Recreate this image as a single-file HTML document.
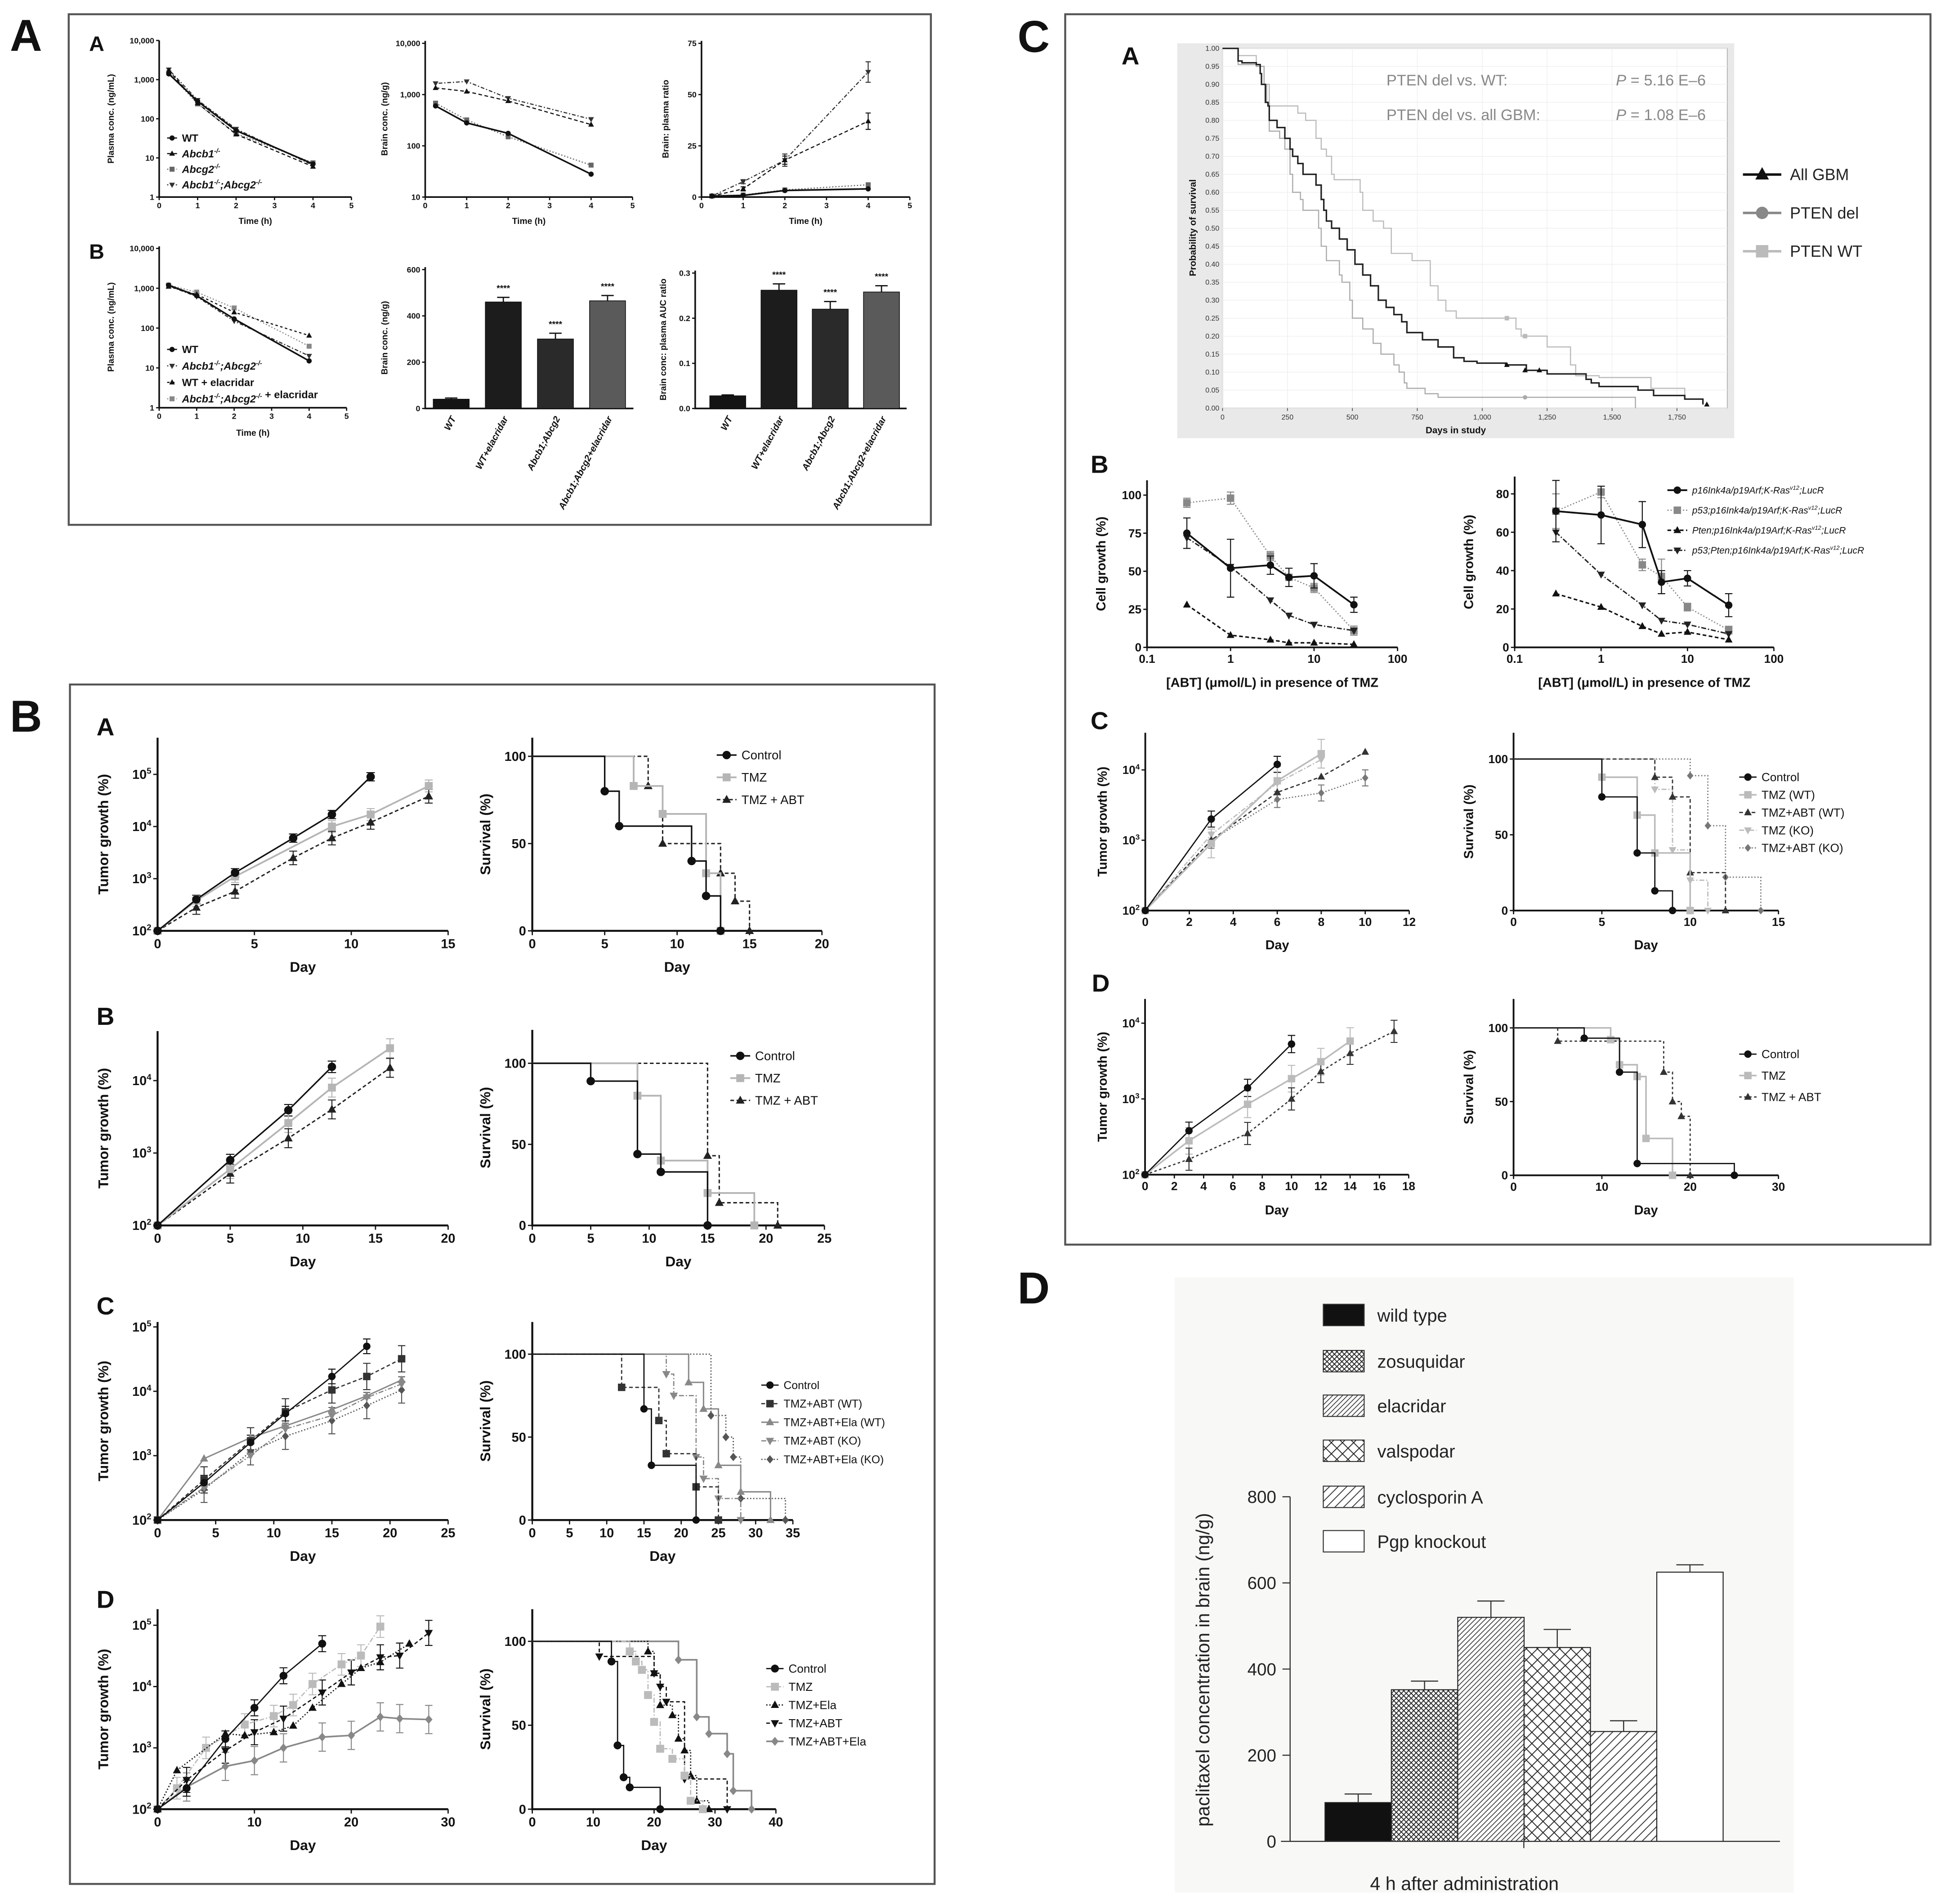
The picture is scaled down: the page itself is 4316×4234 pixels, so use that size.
<!DOCTYPE html>
<html><head><meta charset="utf-8"><style>
html,body{margin:0;padding:0;background:#fff;}
svg{display:block;font-family:"Liberation Sans",Arial,sans-serif;}
</style></head><body>
<svg id="fig" xmlns="http://www.w3.org/2000/svg" width="4316" height="4234" viewBox="0 0 1568 1538.2" preserveAspectRatio="none">
<defs>
<pattern id="pZos" patternUnits="userSpaceOnUse" width="4" height="4"><rect width="4" height="4" fill="#fff"/><path d="M0,0L4,4M4,0L0,4" stroke="#222" stroke-width="0.7"/></pattern>
<pattern id="pEla" patternUnits="userSpaceOnUse" width="4" height="4"><rect width="4" height="4" fill="#fff"/><path d="M-1,5L5,-1M-1,1L1,-1M3,5L5,3" stroke="#333" stroke-width="0.6"/></pattern>
<pattern id="pVal" patternUnits="userSpaceOnUse" width="9" height="9"><rect width="9" height="9" fill="#fff"/><path d="M0,0L9,9M9,0L0,9" stroke="#222" stroke-width="0.7"/></pattern>
<pattern id="pCyc" patternUnits="userSpaceOnUse" width="7" height="7"><rect width="7" height="7" fill="#fff"/><path d="M-1,8L8,-1M-1,1L1,-1M6,8L8,6" stroke="#333" stroke-width="0.7"/></pattern>
</defs>
<g id="root"></g>
</svg>
<script>
// ===== DATA =====
// Panel A (PK)
const pkTimes=[0.25,1,2,4];
const a1WT=[1400,280,50,7], a1B1=[1700,250,40,6], a1G2=[1500,240,42,7.5], a1DKO=[1800,300,55,6.5];
const a2WT=[600,280,175,28], a2B1=[1350,1150,750,260], a2G2=[680,320,150,42], a2DKO=[1650,1800,850,330];
const a3WT=[0.5,0.8,3.2,4], a3B1=[0.5,4,18,37], a3G2=[0.5,1,3.5,6], a3DKO=[0.5,7.5,18,61];
const a3B1err=[0,1,2,4], a3DKOerr=[0,1,3,5];
const b1WT=[1200,650,170,15], b1DKO=[1150,620,150,20], b1WTE=[1100,700,250,65], b1DKOE=[1200,800,320,35];
const barCats=['WT','WT+elacridar','Abcb1;Abcg2','Abcb1;Abcg2+elacridar'];
const brainVals=[40,460,300,465], brainErr=[5,20,25,23];
const aucVals=[0.028,0.262,0.22,0.258], aucErr=[0.002,0.014,0.017,0.014];
const pkTicksLog=[1,10,100,1000,10000], pkTickLabLog=['1','10','100','1,000','10,000'];
const pkTicksLog2=[10,100,1000,10000], pkTickLabLog2=['10','100','1,000','10,000'];
const timeTicks=[0,1,2,3,4,5];
// Panel B row A
const bAdGc=[0,2,4,7,9,11], bAvGc=[100,400,1300,6000,17000,90000];
const bAdGt=[0,2,4,9,11,14], bAvGt=[100,380,1100,10000,17000,60000];
const bAdGa=[0,2,4,7,9,11,14], bAvGa=[100,280,570,2500,6000,12000,38000];
const bAsTc=[5,6,11,12,13], bAsSc=[80,60,40,20,0];
const bAsTt=[7,9,12,13], bAsSt=[83,67,33,0];
const bAsTa=[8,9,13,14,15], bAsSa=[83,50,33,17,0];
// Panel B row B
const bBdGc=[0,5,9,12], bBvGc=[100,800,3900,15500];
const bBdGt=[0,5,9,12,16], bBvGt=[100,600,2600,8000,28000];
const bBdGa=[0,5,9,12,16], bBvGa=[100,520,1600,4000,15000];
const bBsTc=[5,9,11,15], bBsSc=[89,44,33,0];
const bBsTt=[9,11,15,19], bBsSt=[80,40,20,0];
const bBsTa=[15,16,21], bBsSa=[43,14,0];
// Panel B row C
const bCdG1=[0,4,8,11,15,18], bCvG1=[100,380,1600,4500,17000,50000];
const bCdG2=[0,4,8,11,15,18,21], bCvG2=[100,420,1700,4800,10500,17000,32000];
const bCvG3=[100,900,1900,2900,5200,8500,15000];
const bCvG4=[100,320,1000,2600,4200,8000,13000];
const bCvG5=[100,300,1150,2000,3500,6000,10500];
const bCsT1=[15,16,22], bCsS1=[67,33,0];
const bCsT2=[12,17,18,22,25], bCsS2=[80,60,40,20,0];
const bCsT3=[21,23,25,28,32], bCsS3=[83,67,33,17,0];
const bCsT4=[18,19,22,23,25,28], bCsS4=[88,75,38,25,13,0];
const bCsT5=[24,26,27,28,34], bCsS5=[63,50,38,13,0];
// Panel B row D
const bDdG1=[0,3,7,10,13,17], bDvG1=[100,220,1400,4500,15000,50000];
const bDdG2=[0,2,5,9,12,14,16,19,21,23], bDvG2=[100,220,1000,2400,3300,5000,11000,23000,32000,95000];
const bDdG3=[0,2,7,9,12,14,16,19,21,23,26], bDvG3=[100,430,1700,1600,1800,2300,4500,11000,20000,25000,50000];
const bDdG4=[0,3,7,10,13,17,20,23,25,28], bDvG4=[100,300,900,1800,3000,8000,17000,30000,32000,75000];
const bDdG5=[0,3,7,10,13,17,20,23,25,28], bDvG5=[100,230,500,620,1000,1500,1600,3200,3000,2900];
const bDsT1=[13,14,15,16,21], bDsS1=[88,38,19,13,0];
const bDsT2=[16,17,18,19,20,21,23,25,26,28], bDsS2=[94,88,83,68,52,36,30,20,5,0];
const bDsT3=[19,20,21,23,24,25,26,27,29], bDsS3=[94,81,62,56,42,35,20,5,0];
const bDsT4=[11,20,21,22,25,32], bDsS4=[91,81,73,64,18,0];
const bDsT5=[24,27,29,32,33,36], bDsS5=[89,55,45,33,11,0];
// Panel C-A Kaplan-Meier
const kmAllT=[60,75,130,145,150,165,175,180,210,240,260,270,290,310,360,380,390,400,420,450,480,510,540,570,600,630,660,690,710,770,830,890,930,980,1090,1170,1250,1400,1420,1450,1600,1660,1780,1850];
const kmAllS=[0.965,0.96,0.955,0.93,0.9,0.85,0.84,0.8,0.78,0.75,0.72,0.7,0.68,0.65,0.62,0.58,0.55,0.52,0.5,0.47,0.44,0.4,0.37,0.34,0.3,0.28,0.26,0.24,0.21,0.19,0.17,0.14,0.13,0.125,0.12,0.105,0.095,0.08,0.07,0.06,0.05,0.035,0.025,0.01];
const kmDelT=[60,130,160,170,180,220,240,260,270,300,310,370,380,400,450,460,490,500,540,580,610,660,680,700,710,780,830,1590];
const kmDelS=[0.955,0.95,0.9,0.85,0.77,0.75,0.72,0.65,0.6,0.58,0.55,0.5,0.45,0.41,0.37,0.35,0.3,0.25,0.22,0.18,0.15,0.12,0.1,0.07,0.055,0.04,0.03,0];
const kmWtT=[60,130,160,180,290,320,360,380,400,420,430,530,540,580,620,650,730,800,830,860,900,1130,1150,1250,1340,1360,1450,1650,1780];
const kmWtS=[0.98,0.95,0.9,0.84,0.82,0.8,0.75,0.72,0.7,0.65,0.635,0.6,0.55,0.52,0.5,0.43,0.41,0.34,0.3,0.27,0.25,0.22,0.2,0.17,0.12,0.09,0.085,0.055,0.03];
// Panel C-B
const abtConc=[0.3,1,3,5,10,30];
const cbL1=[75,52,54,46,47,28], cbL2=[95,98,60,46,39,11], cbL3=[28,8,5,3,3,2], cbL4=[72,53,31,21,15,11];
const cbL1e=[10,19,6,6,8,5], cbL2e=[3,4,3,6,3,3];
const cbR1=[71,69,64,34,36,22], cbR2=[71,81,43,37,21,9], cbR3=[28,21,11,7,8,4], cbR4=[60,38,22,14,12,7];
const cbR1e=[16,15,12,6,4,6], cbR2e=[9,3,3,9,2,2];
// Panel C-C
const ccD1=[0,3,6], ccV1=[100,2000,12000];
const ccD2=[0,3,6,8], ccV2=[100,900,7000,17000];
const ccD3=[0,3,6,8,10], ccV3=[100,1000,4800,8000,18000];
const ccV4=[100,1200,6500,14000];
const ccV5=[100,1000,3800,4700,7700];
const ccsT1=[5,7,8,9], ccsS1=[75,38,13,0];
const ccsT2=[5,7,8,10], ccsS2=[88,63,38,0];
const ccsT3=[8,9,10,12], ccsS3=[88,75,25,0];
const ccsT4=[8,9,10,11], ccsS4=[80,40,20,0];
const ccsT5=[10,11,12,14], ccsS5=[89,56,22,0];
// Panel C-D
const cdD1=[0,3,7,10], cdV1=[100,380,1400,5300];
const cdD2=[0,3,7,10,12,14], cdV2=[100,280,850,1850,3100,5800];
const cdD3=[0,3,7,10,12,14,17], cdV3=[100,160,350,1000,2300,4000,7800];
const cdsT1=[8,12,14,25], cdsS1=[93,70,8,0];
const cdsT2=[11,12,14,15,18], cdsS2=[92,75,67,25,0];
const cdsT3=[5,17,18,19,20], cdsS3=[91,70,50,40,0];
// Panel D bars
const dCats=['wild type','zosuquidar','elacridar','valspodar','cyclosporin A','Pgp knockout'];
const dVals=[90,352,520,450,255,625];
const dErr=[20,20,38,42,25,17];
const dTicks=[0,200,400,600,800];

// ===== HELPERS =====
const NS='http://www.w3.org/2000/svg';
const root=document.getElementById('root');
function mk(tag,a,p){const e=document.createElementNS(NS,tag);for(const k in a)e.setAttribute(k,a[k]);(p||root).appendChild(e);return e;}
function lin(d0,d1,p0,p1){return v=>p0+(v-d0)/(d1-d0)*(p1-p0);}
function lg(d0,d1,p0,p1){const a=Math.log10(d0),b=Math.log10(d1);return v=>p0+(Math.log10(v)-a)/(b-a)*(p1-p0);}
function grp(name,p){const g=mk('g',{},p);return g;}
function T(p,x,y,s,fs,o){o=o||{};const t=mk('text',{x:x,y:y,'font-size':fs,'text-anchor':o.anchor||'start',fill:o.fill||'#111','font-weight':o.bold?'bold':'normal','font-style':o.italic?'italic':'normal'},p);
 if(o.rot!==undefined)t.setAttribute('transform','rotate('+o.rot+' '+x+' '+y+')');
 const parts=String(s).split('^');t.appendChild(document.createTextNode(parts[0]));
 if(parts.length>1){const ts=mk('tspan',{dy:-fs*0.4,'font-size':fs*0.65},t);ts.textContent=parts[1];}
 return t;}
function marker(p,type,x,y,r,fill){let e;
 if(type==='circle')e=mk('circle',{cx:x,cy:y,r:r,fill:fill},p);
 else if(type==='square')e=mk('rect',{x:x-r,y:y-r,width:2*r,height:2*r,fill:fill},p);
 else if(type==='tri')e=mk('path',{d:`M${x},${y-r*1.2}L${x+r*1.1},${y+r*0.8}L${x-r*1.1},${y+r*0.8}Z`,fill:fill},p);
 else if(type==='dtri')e=mk('path',{d:`M${x},${y+r*1.2}L${x+r*1.1},${y-r*0.8}L${x-r*1.1},${y-r*0.8}Z`,fill:fill},p);
 else e=mk('path',{d:`M${x},${y-r*1.2}L${x+r},${y}L${x},${y+r*1.2}L${x-r},${y}Z`,fill:fill},p);
 return e;}
function axes(p,o){
 const ax=mk('path',{d:`M${o.xa},${o.yTop}V${o.yb}H${o.xe}`,fill:'none',stroke:'#111','stroke-width':o.aw||1.4},p);
 
 const tl=o.tl||3;
 o.xt.forEach((v,i)=>{const x=o.sx(v);mk('line',{x1:x,x2:x,y1:o.yb,y2:o.yb+tl,stroke:'#111','stroke-width':1},p);
  if(o.xl)T(p,x,o.yb+tl+o.fs*1.0,o.xl[i],o.fs,{anchor:'middle',bold:o.bold,name:'x-tick-label'});});
 o.yt.forEach((v,i)=>{const y=o.sy(v);mk('line',{x1:o.xa-tl,x2:o.xa,y1:y,y2:y,stroke:'#111','stroke-width':1},p);
  T(p,o.xa-tl-1.5,y+o.fs*0.35,o.yl[i],o.fs,{anchor:'end',bold:o.bold,name:'y-tick-label'});});
 if(o.xTitle)T(p,(o.xa+o.xe)/2,o.xTitleY,o.xTitle,o.tfs,{anchor:'middle',bold:true,name:'x-axis-title'});
 if(o.yTitle)T(p,o.yTitleX,(o.yb+o.yTop)/2,o.yTitle,o.tfs,{anchor:'middle',bold:true,rot:-90,name:'y-axis-title'});
}
function series(p,xs,ys,sx,sy,st,err){
 const g=grp('series-'+(st.id||'line'),p);
 const d=xs.map((x,i)=>(i?'L':'M')+sx(x)+','+sy(ys[i])).join('');
 mk('path',{d:d,fill:'none',stroke:st.color,'stroke-width':st.w||1,'stroke-dasharray':st.dash||'none'},g);
 if(err)xs.forEach((x,i)=>{if(!err[i])return;const X=sx(x),y1=sy(ys[i]+err[i]),y2=sy(Math.max(ys[i]-err[i],1e-9));
  mk('path',{d:`M${X},${y1}V${y2}M${X-st.r},${y1}H${X+st.r}M${X-st.r},${y2}H${X+st.r}`,stroke:st.color,'stroke-width':0.8,fill:'none'},g);});
 xs.forEach((x,i)=>marker(g,st.m,sx(x),sy(ys[i]),st.r,st.color));
 return g;}
function logErr(p,xs,ys,sx,sy,st,f){xs.forEach((x,i)=>{if(i===0)return;const X=sx(x),y1=sy(ys[i]*f),y2=sy(ys[i]/f);
 mk('path',{d:`M${X},${y1}V${y2}M${X-st.r},${y1}H${X+st.r}M${X-st.r},${y2}H${X+st.r}`,stroke:st.color,'stroke-width':0.8,fill:'none'},p);});}
function steps(p,ts,ss,sx,sy,st,start){
 const g=grp('survival-'+(st.id||'curve'),p);
 let d=`M${sx(0)},${sy(start||100)}`;ts.forEach((t,i)=>{d+=`H${sx(t)}V${sy(ss[i])}`;});
 mk('path',{d:d,fill:'none',stroke:st.color,'stroke-width':st.w||1.3,'stroke-dasharray':st.dash||'none'},g);
 if(st.r)ts.forEach((t,i)=>marker(g,st.m,sx(t),sy(ss[i]),st.r,st.color));
 return g;}
function legend(p,x,y,dy,items,fs,lw,italic){
 items.forEach((it,i)=>{const g=grp('legend-entry',p);const yy=y+i*dy;
  mk('line',{x1:x-lw,x2:x+lw,y1:yy,y2:yy,stroke:it.st.color,'stroke-width':it.st.w||1,'stroke-dasharray':it.st.dash||'none'},g);
  if(it.st.m)marker(g,it.st.m,x,yy,it.st.r,it.st.color);
  const t=T(g,x+lw+4,yy+fs*0.35,'',fs,{italic:it.italic||italic,bold:it.bold,name:'legend-label'});
  t.textContent='';it.parts.forEach(pt=>{const ts=mk('tspan',{},t);if(pt.sup){ts.setAttribute('dy',-fs*0.4);ts.setAttribute('font-size',fs*0.62);}
   else if(pt.after){ts.setAttribute('dy',fs*0.4);} if(pt.normal)ts.setAttribute('font-style','normal');ts.textContent=pt.t;});
 });}
function box(p,x1,y1,x2,y2,name){const r=mk('rect',{x:x1,y:y1,width:x2-x1,height:y2-y1,fill:'none',stroke:'#555','stroke-width':1.6},p);}

// ===== STYLES =====
const sWT={id:'wt',color:'#111',m:'circle',r:2.1,w:1};
const sB1={id:'abcb1',color:'#111',m:'tri',r:2.1,w:0.9,dash:'3,2'};
const sG2={id:'abcg2',color:'#666',m:'square',r:2,w:0.9,dash:'1,1.5'};
const sDK={id:'dko',color:'#333',m:'dtri',r:2.1,w:0.9,dash:'1,1.5,3,1.5'};

// ===== PANEL A =====
const PA=grp('panel-a');
box(PA,55.5,11.5,752,424,'panel-a-frame');
T(PA,8,41,'A',36,{bold:true,name:'panel-letter-a'});
T(PA,72,41,'A',17,{bold:true,name:'subpanel-a'});
T(PA,72,209,'B',17,{bold:true,name:'subpanel-b'});
const axA={fs:6.5,tfs:7,bold:true,tl:2.5,aw:1.3};
// A1
{const g=grp('plasma-conc-chart',PA);const sx=lin(0,5,128.6,283.9),sy=lg(1,10000,159.2,32.7);
 axes(g,Object.assign({},axA,{sx,sy,xa:128.6,xe:283.9,yb:159.2,yTop:32.7,xt:timeTicks,xl:timeTicks,yt:pkTicksLog,yl:pkTickLabLog,xTitle:'Time (h)',xTitleY:181,yTitle:'Plasma conc. (ng/mL)',yTitleX:92}));
 series(g,pkTimes,a1G2,sx,sy,sG2);series(g,pkTimes,a1DKO,sx,sy,sDK);series(g,pkTimes,a1B1,sx,sy,sB1);series(g,pkTimes,a1WT,sx,sy,Object.assign({},sWT,{w:1.3}));
 legend(g,139,111.5,12.6,[{st:sWT,parts:[{t:'WT'}],bold:true},{st:sB1,parts:[{t:'Abcb1'},{t:'-/-',sup:true}],italic:true,bold:true},{st:sG2,parts:[{t:'Abcg2'},{t:'-/-',sup:true}],italic:true,bold:true},{st:sDK,parts:[{t:'Abcb1'},{t:'-/-',sup:true},{t:';Abcg2',after:true},{t:'-/-',sup:true}],italic:true,bold:true}],8.5,4);}
// A2
{const g=grp('brain-conc-chart',PA);const sx=lin(0,5,343.5,511),sy=lg(10,10000,159.2,35);
 axes(g,Object.assign({},axA,{sx,sy,xa:343.5,xe:511,yb:159.2,yTop:33,xt:timeTicks,xl:timeTicks,yt:pkTicksLog2,yl:pkTickLabLog2,xTitle:'Time (h)',xTitleY:181,yTitle:'Brain conc. (ng/g)',yTitleX:313}));
 series(g,pkTimes,a2G2,sx,sy,sG2);series(g,pkTimes,a2DKO,sx,sy,sDK);series(g,pkTimes,a2B1,sx,sy,sB1);series(g,pkTimes,a2WT,sx,sy,Object.assign({},sWT,{w:1.3}));}
// A3
{const g=grp('brain-plasma-ratio-chart',PA);const sx=lin(0,5,566.7,735),sy=lin(0,75,159.2,35);
 axes(g,Object.assign({},axA,{sx,sy,xa:566.7,xe:735,yb:159.2,yTop:33,xt:timeTicks,xl:timeTicks,yt:[0,25,50,75],yl:['0','25','50','75'],xTitle:'Time (h)',xTitleY:181,yTitle:'Brain: plasma ratio',yTitleX:540}));
 series(g,pkTimes,a3G2,sx,sy,sG2);series(g,pkTimes,a3DKO,sx,sy,sDK,a3DKOerr);series(g,pkTimes,a3B1,sx,sy,sB1,a3B1err);series(g,pkTimes,a3WT,sx,sy,Object.assign({},sWT,{w:1.3}));}
// B1
{const g=grp('plasma-conc-elacridar-chart',PA);const sx=lin(0,5,128.6,280),sy=lg(1,10000,329.4,200.7);
 axes(g,Object.assign({},axA,{sx,sy,xa:128.6,xe:280,yb:329.4,yTop:199,xt:timeTicks,xl:timeTicks,yt:pkTicksLog,yl:pkTickLabLog,xTitle:'Time (h)',xTitleY:352,yTitle:'Plasma conc. (ng/mL)',yTitleX:92}));
 const sE={id:'wt-elacridar',color:'#111',m:'tri',r:2.1,w:0.9,dash:'2,2'};const sDE={id:'dko-elacridar',color:'#888',m:'square',r:2,w:0.9,dash:'1,1.5'};
 series(g,pkTimes,b1DKOE,sx,sy,sDE);series(g,pkTimes,b1WTE,sx,sy,sE);series(g,pkTimes,b1DKO,sx,sy,sDK);series(g,pkTimes,b1WT,sx,sy,Object.assign({},sWT,{w:1.3}));
 legend(g,139,282.3,13.3,[{st:sWT,parts:[{t:'WT'}],bold:true},{st:sDK,parts:[{t:'Abcb1'},{t:'-/-',sup:true},{t:';Abcg2',after:true},{t:'-/-',sup:true}],italic:true,bold:true},{st:sE,parts:[{t:'WT + elacridar'}],bold:true},{st:sDE,parts:[{t:'Abcb1'},{t:'-/-',sup:true},{t:';Abcg2',after:true},{t:'-/-',sup:true},{t:' + elacridar',normal:true}],italic:true,bold:true}],8.5,4);}
// Bar charts
function barChart(p,name,vals,errs,sy,xa,xe,c0,step,w,ticks,tlab,ytitle,ytx,colors){
 const g=grp(name,p);
 axes(g,Object.assign({},axA,{sx:v=>v,sy,xa,xe,yb:sy(0),yTop:sy(ticks[ticks.length-1])-2,xt:[],yt:ticks,yl:tlab,yTitle:ytitle,yTitleX:ytx}));
 vals.forEach((v,i)=>{const cx=c0+i*step;const b=mk('rect',{x:cx-w/2,y:sy(v),width:w,height:sy(0)-sy(v),fill:colors[i],stroke:'#111','stroke-width':0.6},g);
  
  const yt=sy(v+errs[i]);mk('path',{d:`M${cx},${sy(v)}V${yt}M${cx-5},${yt}H${cx+5}`,stroke:'#111','stroke-width':1,fill:'none'},g);
  if(i>0)T(g,cx,yt-5,'****',7,{anchor:'middle',bold:true,name:'significance-stars'});
  T(g,cx+4,sy(0)+8,barCats[i],7.5,{anchor:'end',bold:true,italic:true,rot:-62,name:'x-category-label'});});}
barChart(PA,'brain-conc-bar-chart',brainVals,brainErr,lin(0,600,330,217.8),343.5,511.7,364.5,42.1,29,[0,200,400,600],['0','200','400','600'],'Brain conc. (ng/g)',313,['#141414','#1c1c1c','#2a2a2a','#5a5a5a']);
barChart(PA,'auc-ratio-bar-chart',aucVals,aucErr,lin(0,0.3,330,220.6),561.6,732.4,587.9,41.4,29,[0,0.1,0.2,0.3],['0.0','0.1','0.2','0.3'],'Brain conc: plasma AUC ratio',538,['#141414','#1c1c1c','#2a2a2a','#5a5a5a']);

// ===== PANEL B =====
const PB=grp('panel-b');
box(PB,56.5,553,755,1522,'panel-b-frame');
T(PB,8,591,'B',36,{bold:true,name:'panel-letter-b'});
[['A',594],['B',828],['C',1062],['D',1299]].forEach(a=>T(PB,78,a[1],a[0],20,{bold:true,name:'subpanel-'+a[0].toLowerCase()}));
const axB={fs:10.5,tfs:11.5,bold:true,tl:3.5,aw:1.6};
const sCtl={id:'control',color:'#111',m:'circle',r:3.4,w:1.2};
const sTmz={id:'tmz',color:'#b5b5b5',m:'square',r:3.2,w:1.4};
const sAbt={id:'tmz-abt',color:'#222',m:'tri',r:3.2,w:1.1,dash:'3,2'};
const pow=['10^2','10^3','10^4','10^5'];
function growth(p,name,sx,sy,xa,xe,yb,yTop,xt,yt,yl){const g=grp(name,p);
 axes(g,Object.assign({},axB,{sx,sy,xa,xe,yb,yTop,xt,xl:xt,yt,yl,xTitle:'Day',xTitleY:yb+33,yTitle:'Tumor growth (%)',yTitleX:xa-40}));return g;}
function surv(p,name,sx,sy,xa,xe,yb,yTop,xt){const g=grp(name,p);
 axes(g,Object.assign({},axB,{sx,sy,xa,xe,yb,yTop,xt,xl:xt,yt:[0,50,100],yl:['0','50','100'],xTitle:'Day',xTitleY:yb+33,yTitle:'Survival (%)',yTitleX:xa-34}));return g;}
// Row A
{const sx=lin(0,15,127.3,362),sy=lg(100,1e5,752,625.6);const g=growth(PB,'tumor-growth-chart-a',sx,sy,127.3,362,752,596,[0,5,10,15],[100,1e3,1e4,1e5],pow);
 logErr(g,bAdGc,bAvGc,sx,sy,sCtl,1.2);logErr(g,bAdGt,bAvGt,sx,sy,sTmz,1.3);logErr(g,bAdGa,bAvGa,sx,sy,sAbt,1.35);
 series(g,bAdGa,bAvGa,sx,sy,sAbt);series(g,bAdGt,bAvGt,sx,sy,sTmz);series(g,bAdGc,bAvGc,sx,sy,sCtl);
 const s2x=lin(0,20,430,664),s2y=lin(0,100,752,611);const h=surv(PB,'survival-chart-a',s2x,s2y,430,664,752,596,[0,5,10,15,20]);
 steps(h,bAsTa,bAsSa,s2x,s2y,sAbt);steps(h,bAsTt,bAsSt,s2x,s2y,sTmz);steps(h,bAsTc,bAsSc,s2x,s2y,sCtl);
 legend(h,587,610,18,[{st:sCtl,parts:[{t:'Control'}]},{st:sTmz,parts:[{t:'TMZ'}]},{st:sAbt,parts:[{t:'TMZ + ABT'}]}],10,8);}
// Row B
{const sx=lin(0,20,127.3,362),sy=lg(100,1e4,990,873);const g=growth(PB,'tumor-growth-chart-b',sx,sy,127.3,362,990,833,[0,5,10,15,20],[100,1e3,1e4],pow);
 logErr(g,bBdGc,bBvGc,sx,sy,sCtl,1.2);logErr(g,bBdGt,bBvGt,sx,sy,sTmz,1.35);logErr(g,bBdGa,bBvGa,sx,sy,sAbt,1.35);
 series(g,bBdGa,bBvGa,sx,sy,sAbt);series(g,bBdGt,bBvGt,sx,sy,sTmz);series(g,bBdGc,bBvGc,sx,sy,sCtl);
 const s2x=lin(0,25,430,666),s2y=lin(0,100,990,859);const h=surv(PB,'survival-chart-b',s2x,s2y,430,666,990,832,[0,5,10,15,20,25]);
 steps(h,bBsTa,bBsSa,s2x,s2y,sAbt);steps(h,bBsTt,bBsSt,s2x,s2y,sTmz);steps(h,bBsTc,bBsSc,s2x,s2y,sCtl);
 legend(h,598,853,18,[{st:sCtl,parts:[{t:'Control'}]},{st:sTmz,parts:[{t:'TMZ'}]},{st:sAbt,parts:[{t:'TMZ + ABT'}]}],10,8);}
// Row C
{const c1={id:'control',color:'#111',m:'circle',r:3,w:1};const c2={id:'tmz-abt-wt',color:'#333',m:'square',r:3,w:1,dash:'3,2'};
 const c3={id:'tmz-abt-ela-wt',color:'#888',m:'tri',r:3,w:1.1};const c4={id:'tmz-abt-ko',color:'#888',m:'dtri',r:3,w:1,dash:'4,1.5,1,1.5'};const c5={id:'tmz-abt-ela-ko',color:'#555',m:'diamond',r:2.8,w:1,dash:'1,1.5'};
 const sx=lin(0,25,127.3,362),sy=lg(100,1e5,1228,1072);const g=growth(PB,'tumor-growth-chart-c',sx,sy,127.3,362,1228,1068,[0,5,10,15,20,25],[100,1e3,1e4,1e5],pow);
 logErr(g,bCdG2,bCvG2,sx,sy,c2,1.6);logErr(g,bCdG1,bCvG1,sx,sy,c1,1.3);logErr(g,bCdG2,bCvG5,sx,sy,c5,1.6);
 series(g,bCdG2,bCvG5,sx,sy,c5);series(g,bCdG2,bCvG4,sx,sy,c4);series(g,bCdG2,bCvG3,sx,sy,c3);series(g,bCdG2,bCvG2,sx,sy,c2);series(g,bCdG1,bCvG1,sx,sy,c1);
 const s2x=lin(0,35,430,640.5),s2y=lin(0,100,1228,1094);const h=surv(PB,'survival-chart-c',s2x,s2y,430,640.5,1228,1068,[0,5,10,15,20,25,30,35]);
 steps(h,bCsT5,bCsS5,s2x,s2y,c5);steps(h,bCsT4,bCsS4,s2x,s2y,c4);steps(h,bCsT3,bCsS3,s2x,s2y,c3);steps(h,bCsT2,bCsS2,s2x,s2y,c2);steps(h,bCsT1,bCsS1,s2x,s2y,c1);
 legend(h,622,1119,15,[{st:c1,parts:[{t:'Control'}]},{st:c2,parts:[{t:'TMZ+ABT (WT)'}]},{st:c3,parts:[{t:'TMZ+ABT+Ela (WT)'}]},{st:c4,parts:[{t:'TMZ+ABT (KO)'}]},{st:c5,parts:[{t:'TMZ+ABT+Ela (KO)'}]}],9,7);}
// Row D
{const d1={id:'control',color:'#111',m:'circle',r:3.2,w:1};const d2={id:'tmz',color:'#bbb',m:'square',r:3.2,w:1,dash:'4,1.5,1,1.5'};
 const d3={id:'tmz-ela',color:'#111',m:'tri',r:3,w:1,dash:'1,1.5'};const d4={id:'tmz-abt',color:'#111',m:'dtri',r:3,w:1,dash:'3,2'};const d5={id:'tmz-abt-ela',color:'#888',m:'diamond',r:3,w:1.3};
 const sx=lin(0,30,127.3,362),sy=lg(100,1e5,1461.6,1313);const g=growth(PB,'tumor-growth-chart-d',sx,sy,127.3,362,1461.6,1300,[0,10,20,30],[100,1e3,1e4,1e5],pow);
 logErr(g,bDdG5,bDvG5,sx,sy,d5,1.7);logErr(g,bDdG2,bDvG2,sx,sy,d2,1.5);logErr(g,bDdG4,bDvG4,sx,sy,d4,1.6);logErr(g,bDdG1,bDvG1,sx,sy,d1,1.35);
 series(g,bDdG5,bDvG5,sx,sy,d5);series(g,bDdG2,bDvG2,sx,sy,d2);series(g,bDdG3,bDvG3,sx,sy,d3);series(g,bDdG4,bDvG4,sx,sy,d4);series(g,bDdG1,bDvG1,sx,sy,d1);
 const s2x=lin(0,40,430,626.8),s2y=lin(0,100,1461.6,1326);const h=surv(PB,'survival-chart-d',s2x,s2y,430,626.8,1461.6,1300,[0,10,20,30,40]);
 steps(h,bDsT5,bDsS5,s2x,s2y,d5);steps(h,bDsT4,bDsS4,s2x,s2y,d4);steps(h,bDsT3,bDsS3,s2x,s2y,d3);steps(h,bDsT2,bDsS2,s2x,s2y,d2);steps(h,bDsT1,bDsS1,s2x,s2y,d1);
 legend(h,626,1348,14.7,[{st:d1,parts:[{t:'Control'}]},{st:d2,parts:[{t:'TMZ'}]},{st:d3,parts:[{t:'TMZ+Ela'}]},{st:d4,parts:[{t:'TMZ+ABT'}]},{st:d5,parts:[{t:'TMZ+ABT+Ela'}]}],9.5,7);}

// ===== PANEL C =====
const PC=grp('panel-c');
box(PC,860.5,11.5,1559.5,1005.5,'panel-c-frame');
T(PC,822,42,'C',36,{bold:true,name:'panel-letter-c'});
T(PC,906,52,'A',20,{bold:true,name:'subpanel-a'});
T(PC,881,382,'B',20,{bold:true,name:'subpanel-b'});
T(PC,881,589,'C',20,{bold:true,name:'subpanel-c'});
T(PC,882,801,'D',20,{bold:true,name:'subpanel-d'});
// KM
{const g=grp('kaplan-meier-chart',PC);
 mk('rect',{x:951,y:35,width:450,height:319,fill:'#e9e9e9'},g);
 mk('rect',{x:987.6,y:39.1,width:407.8,height:290.6,fill:'#fff',stroke:'#bbb','stroke-width':0.8},g);
 const sx=lin(0,1750,987.6,1354.7),sy=lin(0,1,329.7,39.1);
 const yt=[],yl=[];for(let i=0;i<=20;i++){yt.push(i*0.05);yl.push((i*0.05).toFixed(2));}
 yt.forEach(v=>mk('line',{x1:987.6,x2:1395.4,y1:sy(v),y2:sy(v),stroke:'#eee','stroke-width':0.5},g));
 const xt=[0,250,500,750,1000,1250,1500,1750],xl=['0','250','500','750','1,000','1,250','1,500','1,750'];
 xt.forEach(v=>mk('line',{x1:sx(v),x2:sx(v),y1:39.1,y2:329.7,stroke:'#eee','stroke-width':0.5},g));
 xt.forEach((v,i)=>{mk('line',{x1:sx(v),x2:sx(v),y1:329.7,y2:332,stroke:'#444','stroke-width':0.6},g);T(g,sx(v),339,xl[i],5.8,{anchor:'middle',name:'x-tick-label',fill:'#333'});});
 yt.forEach((v,i)=>T(g,985,sy(v)+2,yl[i],5.8,{anchor:'end',name:'y-tick-label',fill:'#333'}));
 T(g,1176,350,'Days in study',7.5,{anchor:'middle',bold:true,name:'x-axis-title'});
 T(g,966,184,'Probability of survival',7.5,{anchor:'middle',bold:true,rot:-90,name:'y-axis-title'});
 const kA={id:'all-gbm',color:'#222',w:1.2},kD={id:'pten-del',color:'#aaa',w:0.9},kW={id:'pten-wt',color:'#bbb',w:0.9};
 steps(g,kmWtT,kmWtS,sx,sy,kW,1);steps(g,kmDelT,kmDelS,sx,sy,kD,1);steps(g,kmAllT,kmAllS,sx,sy,kA,1);
 [[1095,0.12],[1165,0.105],[1220,0.105],[1865,0.01]].forEach(p=>marker(g,'tri',sx(p[0]),sy(p[1]),2,'#111'));
 marker(g,'circle',sx(1165),sy(0.03),1.8,'#aaa');marker(g,'square',sx(1095),sy(0.25),1.8,'#bbb');marker(g,'square',sx(1165),sy(0.2),1.8,'#bbb');
 T(g,1120,69,'PTEN del vs. WT:',12.5,{fill:'#888',name:'comparison-label'});
 T(g,1120,97,'PTEN del vs. all GBM:',12.5,{fill:'#888',name:'comparison-label'});
 const p1=T(g,1378,69,'',12.5,{anchor:'end',fill:'#888',name:'p-value'});p1.innerHTML='<tspan font-style="italic">P</tspan> = 5.16 E–6';
 const p2=T(g,1378,97,'',12.5,{anchor:'end',fill:'#888',name:'p-value'});p2.innerHTML='<tspan font-style="italic">P</tspan> = 1.08 E–6';
 const kl=grp('km-legend',PC);
 [[{color:'#111',m:'tri'},'All GBM',141],[{color:'#888',m:'circle'},'PTEN del',172],[{color:'#bbb',m:'square'},'PTEN WT',203]].forEach(it=>{
  const e=grp('legend-entry',kl);mk('line',{x1:1408,x2:1439,y1:it[2],y2:it[2],stroke:it[0].color,'stroke-width':2},e);marker(e,it[0].m,1423.5,it[2],5,it[0].color);
  T(e,1446,it[2]+4.5,it[1],13,{name:'legend-label',fill:'#222'});});}
// C-B
const axC={fs:9.5,tfs:10.5,bold:true,tl:3,aw:1.4};
const cb1={id:'p16',color:'#111',m:'circle',r:3,w:1.4},cb2={id:'p53-p16',color:'#888',m:'square',r:3,w:1,dash:'1,1.5'},cb3={id:'pten-p16',color:'#111',m:'tri',r:2.8,w:1.2,dash:'3,2'},cb4={id:'p53-pten-p16',color:'#222',m:'dtri',r:2.8,w:1.1,dash:'4,1.5,1,1.5'};
{const g=grp('cell-growth-chart-left',PC);const sx=lg(0.1,100,926.6,1129),sy=lin(0,100,523,400);
 axes(g,Object.assign({},axC,{sx,sy,xa:926.6,xe:1129,yb:523,yTop:388,xt:[0.1,1,10,100],xl:['0.1','1','10','100'],yt:[0,25,50,75,100],yl:['0','25','50','75','100'],xTitle:'[ABT] (μmol/L) in presence of TMZ',xTitleY:555,yTitle:'Cell growth (%)',yTitleX:893}));
 series(g,abtConc,cbL2,sx,sy,cb2,cbL2e);series(g,abtConc,cbL4,sx,sy,cb4);series(g,abtConc,cbL3,sx,sy,cb3);series(g,abtConc,cbL1,sx,sy,cb1,cbL1e);}
{const g=grp('cell-growth-chart-right',PC);const sx=lg(0.1,100,1223.6,1433),sy=lin(0,80,523,399);
 axes(g,Object.assign({},axC,{sx,sy,xa:1223.6,xe:1433,yb:523,yTop:385,xt:[0.1,1,10,100],xl:['0.1','1','10','100'],yt:[0,20,40,60,80],yl:['0','20','40','60','80'],xTitle:'[ABT] (μmol/L) in presence of TMZ',xTitleY:555,yTitle:'Cell growth (%)',yTitleX:1190}));
 series(g,abtConc,cbR2,sx,sy,cb2,cbR2e);series(g,abtConc,cbR4,sx,sy,cb4);series(g,abtConc,cbR3,sx,sy,cb3);series(g,abtConc,cbR1,sx,sy,cb1,cbR1e);
 legend(g,1355,396,16.2,[{st:cb1,parts:[{t:'p16Ink4a/p19Arf;K-Ras'},{t:'v12',sup:true},{t:';LucR',after:true}]},{st:cb2,parts:[{t:'p53;p16Ink4a/p19Arf;K-Ras'},{t:'v12',sup:true},{t:';LucR',after:true}]},{st:cb3,parts:[{t:'Pten;p16Ink4a/p19Arf;K-Ras'},{t:'v12',sup:true},{t:';LucR',after:true}]},{st:cb4,parts:[{t:'p53;Pten;p16Ink4a/p19Arf;K-Ras'},{t:'v12',sup:true},{t:';LucR',after:true}]}],7.6,8,true);}
// C-C
{const c1={id:'control',color:'#111',m:'circle',r:3,w:1},c2={id:'tmz-wt',color:'#bbb',m:'square',r:3,w:1.3},c3={id:'tmz-abt-wt',color:'#333',m:'tri',r:2.8,w:1,dash:'3,2'},c4={id:'tmz-ko',color:'#bbb',m:'dtri',r:2.8,w:1,dash:'4,1.5,1,1.5'},c5={id:'tmz-abt-ko',color:'#777',m:'diamond',r:2.6,w:1,dash:'1,1.5'};
 const sx=lin(0,12,925.2,1138.4),sy=lg(100,1e4,735.6,622);const g=grp('tumor-growth-chart-c2',PC);
 axes(g,Object.assign({},axC,{sx,sy,xa:925.2,xe:1138.4,yb:735.6,yTop:592,xt:[0,2,4,6,8,10,12],xl:[0,2,4,6,8,10,12],yt:[100,1e3,1e4],yl:pow,xTitle:'Day',xTitleY:767,yTitle:'Tumor growth (%)',yTitleX:894}));
 logErr(g,ccD1,ccV1,sx,sy,c1,1.3);logErr(g,ccD2,ccV2,sx,sy,c2,1.6);logErr(g,ccD3,ccV5,sx,sy,c5,1.3);
 series(g,ccD3,ccV5,sx,sy,c5);series(g,ccD2,ccV4,sx,sy,c4);series(g,ccD3,ccV3,sx,sy,c3);series(g,ccD2,ccV2,sx,sy,c2);series(g,ccD1,ccV1,sx,sy,c1);
 const s2x=lin(0,15,1222.7,1436.7),s2y=lin(0,100,735.6,613.2);const h=grp('survival-chart-c2',PC);
 axes(h,Object.assign({},axC,{sx:s2x,sy:s2y,xa:1222.7,xe:1436.7,yb:735.6,yTop:592,xt:[0,5,10,15],xl:[0,5,10,15],yt:[0,50,100],yl:['0','50','100'],xTitle:'Day',xTitleY:767,yTitle:'Survival (%)',yTitleX:1190}));
 steps(h,ccsT5,ccsS5,s2x,s2y,c5);steps(h,ccsT4,ccsS4,s2x,s2y,c4);steps(h,ccsT3,ccsS3,s2x,s2y,c3);steps(h,ccsT2,ccsS2,s2x,s2y,c2);steps(h,ccsT1,ccsS1,s2x,s2y,c1);
 legend(h,1412,627.8,14.3,[{st:c1,parts:[{t:'Control'}]},{st:c2,parts:[{t:'TMZ (WT)'}]},{st:c3,parts:[{t:'TMZ+ABT (WT)'}]},{st:c4,parts:[{t:'TMZ (KO)'}]},{st:c5,parts:[{t:'TMZ+ABT (KO)'}]}],9.5,7);}
// C-D
{const c1={id:'control',color:'#111',m:'circle',r:3,w:1},c2={id:'tmz',color:'#bbb',m:'square',r:3,w:1.3},c3={id:'tmz-abt',color:'#333',m:'tri',r:2.8,w:1,dash:'2,2'};
 const sx=lin(0,18,925,1138),sy=lg(100,1e4,949,826.6);const g=grp('tumor-growth-chart-d2',PC);
 axes(g,Object.assign({},axC,{sx,sy,xa:925,xe:1138,yb:949,yTop:807,xt:[0,2,4,6,8,10,12,14,16,18],xl:[0,2,4,6,8,10,12,14,16,18],yt:[100,1e3,1e4],yl:pow,xTitle:'Day',xTitleY:981,yTitle:'Tumor growth (%)',yTitleX:894}));
 logErr(g,cdD1,cdV1,sx,sy,c1,1.3);logErr(g,cdD2,cdV2,sx,sy,c2,1.5);logErr(g,cdD3,cdV3,sx,sy,c3,1.4);
 series(g,cdD3,cdV3,sx,sy,c3);series(g,cdD2,cdV2,sx,sy,c2);series(g,cdD1,cdV1,sx,sy,c1);
 const s2x=lin(0,30,1222.7,1436.7),s2y=lin(0,100,949.5,830.4);const h=grp('survival-chart-d2',PC);
 axes(h,Object.assign({},axC,{sx:s2x,sy:s2y,xa:1222.7,xe:1436.7,yb:949.5,yTop:807,xt:[0,10,20,30],xl:[0,10,20,30],yt:[0,50,100],yl:['0','50','100'],xTitle:'Day',xTitleY:981,yTitle:'Survival (%)',yTitleX:1190}));
 steps(h,cdsT3,cdsS3,s2x,s2y,c3);steps(h,cdsT2,cdsS2,s2x,s2y,c2);steps(h,cdsT1,cdsS1,s2x,s2y,c1);
 legend(h,1412,851.6,17.3,[{st:c1,parts:[{t:'Control'}]},{st:c2,parts:[{t:'TMZ'}]},{st:c3,parts:[{t:'TMZ + ABT'}]}],9.5,7);}

// ===== PANEL D =====
const PD=grp('panel-d');
T(PD,822,1053,'D',36,{bold:true,name:'panel-letter-d'});
{const g=grp('paclitaxel-bar-chart',PD);
 mk('rect',{x:949,y:1032,width:500,height:497,fill:'#f8f8f6'},g);
 const sy=lin(0,800,1487.6,1209.2);
 const fills=['#111','url(#pZos)','url(#pEla)','url(#pVal)','url(#pCyc)','#fff'];
 const x0=1070.4,bw=53.6;
 dVals.forEach((v,i)=>{const x=x0+i*bw;const b=mk('rect',{x:x,y:sy(v),width:bw,height:sy(0)-sy(v),fill:fills[i],stroke:'#222','stroke-width':0.8},g);
  
  const cx=x+bw/2,yt=sy(v+dErr[i]);mk('path',{d:`M${cx},${sy(v)}V${yt}M${cx-11},${yt}H${cx+11}`,stroke:'#333','stroke-width':0.9,fill:'none'},g);});
 mk('path',{d:`M1042.2,${sy(800)}V1487.6M1034.8,1487.6H1437.9M1231,1487.6V1493`,stroke:'#333','stroke-width':0.9,fill:'none'},g);
 dTicks.forEach(v=>{mk('line',{x1:1036,x2:1042.2,y1:sy(v),y2:sy(v),stroke:'#333','stroke-width':0.9},g);T(g,1031,sy(v)+5,String(v),14,{anchor:'end',fill:'#222',name:'y-tick-label'});});
 T(g,977,1349,'paclitaxel concentration in brain (ng/g)',15,{anchor:'middle',rot:-90,fill:'#222',name:'y-axis-title'});
 T(g,1183,1527,'4 h after administration',15,{anchor:'middle',fill:'#222',name:'x-axis-title'});
 const ly=[1053.7,1091,1127,1163.4,1200.6,1236.5];
 dCats.forEach((c,i)=>{const e=grp('legend-entry',g);mk('rect',{x:1069,y:ly[i],width:33,height:17.3,fill:fills[i],stroke:'#333','stroke-width':0.8},e);
  T(e,1112.6,ly[i]+14,c,14.5,{fill:'#222',name:'legend-label'});});}
</script>
</body></html>
